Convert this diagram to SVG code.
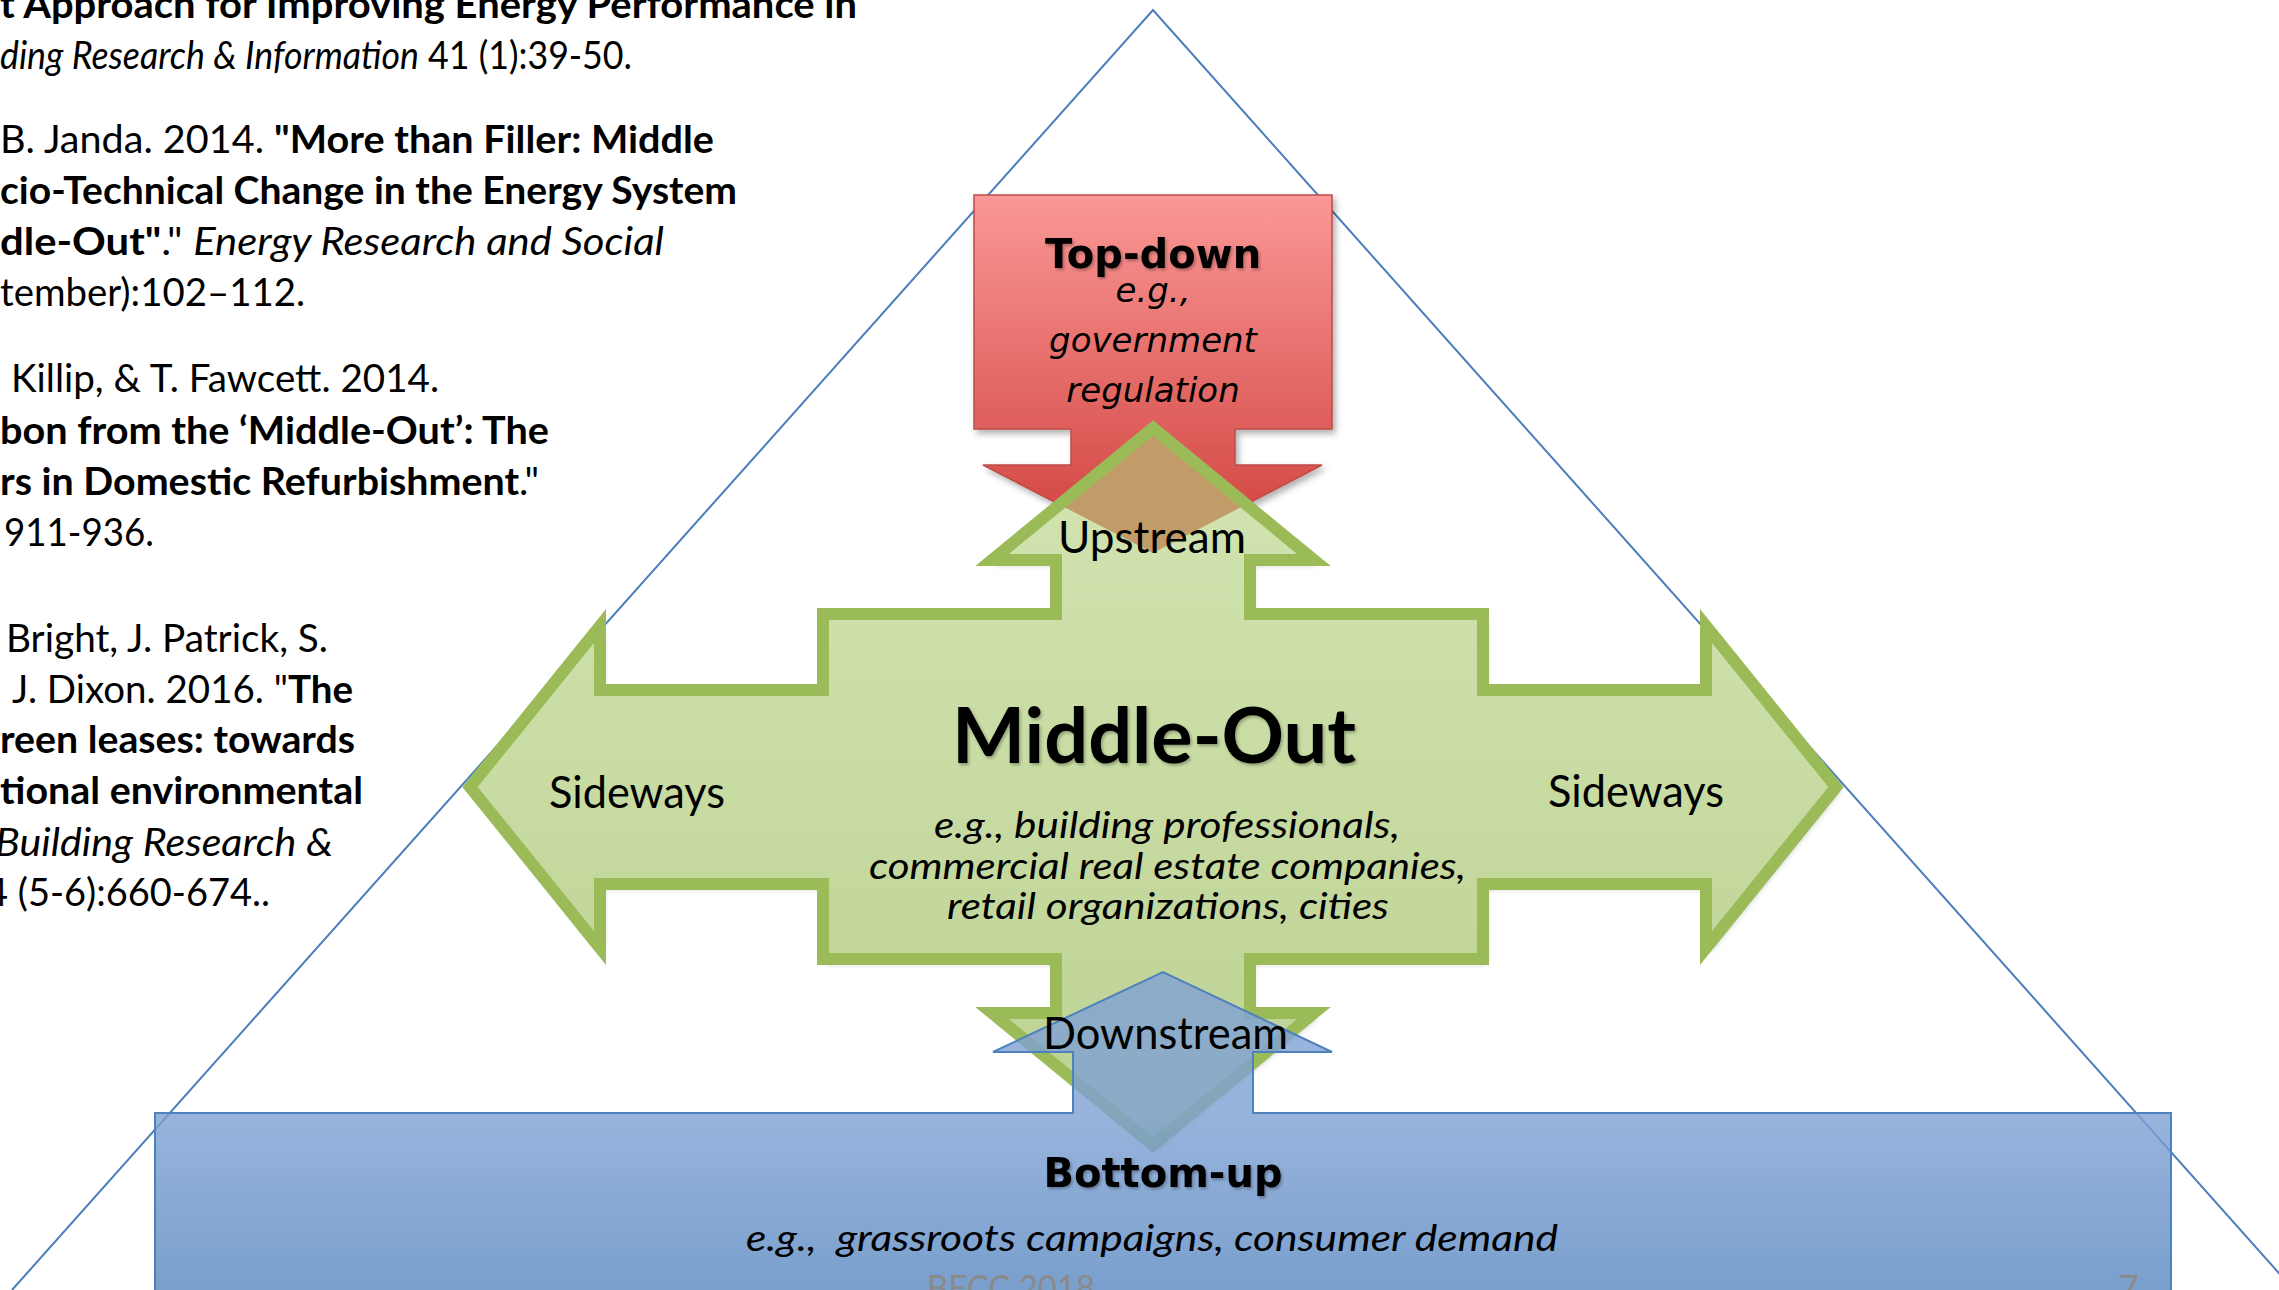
<svg xmlns="http://www.w3.org/2000/svg" width="2279" height="1290" viewBox="0 0 2279 1290">
<style>
.ref{font-family:Lato,"Liberation Sans",sans-serif;font-size:38px;fill:#000}
.b{font-weight:bold}
.i{font-style:italic}
.lbl{font-family:Lato,"Liberation Sans",sans-serif;font-size:44px;fill:#000}
.big{font-family:Lato,"Liberation Sans",sans-serif;font-size:76px;font-weight:bold;fill:#000}
.sub{font-family:Lato,"Liberation Sans",sans-serif;font-size:37px;font-style:italic;fill:#000}
.vb{font-family:"DejaVu Sans",Verdana,sans-serif;font-weight:bold;fill:#000}
.vi{font-family:"DejaVu Sans",Verdana,sans-serif;font-style:italic;font-size:34px;fill:#000}
.foot{font-family:Lato,"Liberation Sans",sans-serif;font-size:36px;fill:#8a8a8a}
</style>
<defs>
<linearGradient id="gRed" gradientUnits="userSpaceOnUse" x1="0" y1="195" x2="0" y2="553">
<stop offset="0" stop-color="#FA9896"/><stop offset="1" stop-color="#CF3F3B"/>
</linearGradient>
<linearGradient id="gGreen" gradientUnits="userSpaceOnUse" x1="0" y1="421" x2="0" y2="1152">
<stop offset="0" stop-color="#D3E5B2"/><stop offset="1" stop-color="#BCD193"/>
</linearGradient>
<linearGradient id="gBlue" gradientUnits="userSpaceOnUse" x1="0" y1="1113" x2="0" y2="1290">
<stop offset="0" stop-color="#7EA1D4"/><stop offset="1" stop-color="#5887C0"/>
</linearGradient>
<filter id="sh" x="-10%" y="-10%" width="120%" height="120%">
<feDropShadow dx="3" dy="4" stdDeviation="3" flood-color="#000" flood-opacity="0.3"/>
</filter>
<filter id="tsh" x="-10%" y="-20%" width="120%" height="140%">
<feDropShadow dx="1.5" dy="2" stdDeviation="1.5" flood-color="#000" flood-opacity="0.3"/>
</filter>
<path id="greenPath" d="M1153,428 L1314,560 L1250,560 L1250,614 L1483,614 L1483,690 L1706,690 L1706,626 L1836,787 L1706,948 L1706,884 L1483,884 L1483,959 L1250,959 L1250,1013 L1314,1013 L1153,1145 L992,1013 L1056,1013 L1056,959 L823,959 L823,884 L600,884 L600,948 L470,787 L600,626 L600,690 L823,690 L823,614 L1056,614 L1056,560 L992,560 Z"/>
<path id="redPath" d="M974,195 L1332,195 L1332,429 L1235,429 L1235,465 L1322,465 L1153,553 L983,465 L1071,465 L1071,429 L974,429 Z"/>
<clipPath id="greenClip"><use href="#greenPath"/></clipPath>
</defs>

<g id="frame">
<polyline points="12,1290 1153,10 2294,1290" fill="none" stroke="#4A7EBB" stroke-width="2"/>
</g>

<g id="references">
<text class="ref b" x="0" y="18" textLength="857" lengthAdjust="spacingAndGlyphs">t Approach for Improving Energy Performance in</text>
<text class="ref" x="0" y="69" textLength="632" lengthAdjust="spacingAndGlyphs"><tspan class="i">ding Research &amp; Information</tspan> 41 (1):39-50.</text>
<text class="ref" x="0" y="153" textLength="714" lengthAdjust="spacingAndGlyphs">B. Janda. 2014. <tspan class="b">"More than Filler: Middle</tspan></text>
<text class="ref b" x="0" y="204" textLength="737" lengthAdjust="spacingAndGlyphs">cio-Technical Change in the Energy System</text>
<text class="ref" x="0" y="255" textLength="664" lengthAdjust="spacingAndGlyphs"><tspan class="b">dle-Out"</tspan>." <tspan class="i">Energy Research and Social</tspan></text>
<text class="ref" x="0" y="306" textLength="305" lengthAdjust="spacingAndGlyphs">tember):102–112.</text>
<text class="ref" x="11" y="392" textLength="428" lengthAdjust="spacingAndGlyphs">Killip, &amp; T. Fawcett. 2014.</text>
<text class="ref b" x="0" y="444" textLength="549" lengthAdjust="spacingAndGlyphs">bon from the ‘Middle-Out’: The</text>
<text class="ref" x="0" y="495" textLength="539" lengthAdjust="spacingAndGlyphs"><tspan class="b">rs in Domestic Refurbishment</tspan>."</text>
<text class="ref" x="4" y="546" textLength="150" lengthAdjust="spacingAndGlyphs">911-936.</text>
<text class="ref" x="6" y="652" textLength="322" lengthAdjust="spacingAndGlyphs">Bright, J. Patrick, S.</text>
<text class="ref" x="12" y="703" textLength="341" lengthAdjust="spacingAndGlyphs">J. Dixon. 2016. "<tspan class="b">The</tspan></text>
<text class="ref b" x="0" y="753" textLength="355" lengthAdjust="spacingAndGlyphs">reen leases: towards</text>
<text class="ref b" x="0" y="804" textLength="363" lengthAdjust="spacingAndGlyphs">tional environmental</text>
<text class="ref i" x="-5" y="856" textLength="338" lengthAdjust="spacingAndGlyphs">Building Research &amp;</text>
<text class="ref" x="-14" y="906" textLength="284" lengthAdjust="spacingAndGlyphs">4 (5-6):660-674..</text>
</g>

<g id="top-down">
<use href="#redPath" fill="url(#gRed)" stroke="#BE4B48" stroke-width="1.5" filter="url(#sh)"/>
</g>

<g id="middle-out">
<use href="#greenPath" fill="url(#gGreen)" filter="url(#sh)"/>
<g clip-path="url(#greenClip)">
<use href="#redPath" fill="#C29C68"/>
</g>
<use href="#greenPath" fill="none" stroke="#9BBB59" stroke-width="12" stroke-linejoin="miter" stroke-miterlimit="6"/>
</g>

<g id="bottom-up">
<path d="M155,1113 L1073,1113 L1073,1052 L993,1052 L1163,972 L1332,1052 L1253,1052 L1253,1113 L2171,1113 L2171,1310 L155,1310 Z" fill="url(#gBlue)" fill-opacity="0.8" stroke="#4F81BD" stroke-width="2"/>
</g>

<g id="labels">
<text class="vb" x="1153" y="268" style="font-size:40px" text-anchor="middle" filter="url(#tsh)">Top-down</text>
<text class="vi" x="1153" y="302" text-anchor="middle">e.g.,</text>
<text class="vi" x="1153" y="352" text-anchor="middle">government</text>
<text class="vi" x="1153" y="402" text-anchor="middle">regulation</text>

<text class="lbl" x="1058" y="553" textLength="188" lengthAdjust="spacingAndGlyphs">Upstream</text>
<text class="lbl" x="549" y="808" textLength="176" lengthAdjust="spacingAndGlyphs">Sideways</text>
<text class="lbl" x="1548" y="807" textLength="176" lengthAdjust="spacingAndGlyphs">Sideways</text>
<text class="big" x="952" y="763" textLength="404" lengthAdjust="spacingAndGlyphs" filter="url(#tsh)">Middle-Out</text>
<text class="sub" x="934" y="838" textLength="466" lengthAdjust="spacingAndGlyphs">e.g., building professionals,</text>
<text class="sub" x="869" y="879" textLength="597" lengthAdjust="spacingAndGlyphs">commercial real estate companies,</text>
<text class="sub" x="947" y="919" textLength="442" lengthAdjust="spacingAndGlyphs">retail organizations, cities</text>
<text class="lbl" x="1043" y="1049" textLength="245" lengthAdjust="spacingAndGlyphs">Downstream</text>

<text class="vb" x="1163" y="1187" style="font-size:40px" text-anchor="middle" filter="url(#tsh)">Bottom-up</text>
<text class="sub" x="746" y="1251" textLength="812" lengthAdjust="spacingAndGlyphs">e.g.,&#160; grassroots campaigns, consumer demand</text>
<text class="foot" x="927" y="1301" textLength="168" lengthAdjust="spacingAndGlyphs">BECC 2018</text>
<text class="foot" x="2118" y="1301">7</text>
</g>
</svg>
